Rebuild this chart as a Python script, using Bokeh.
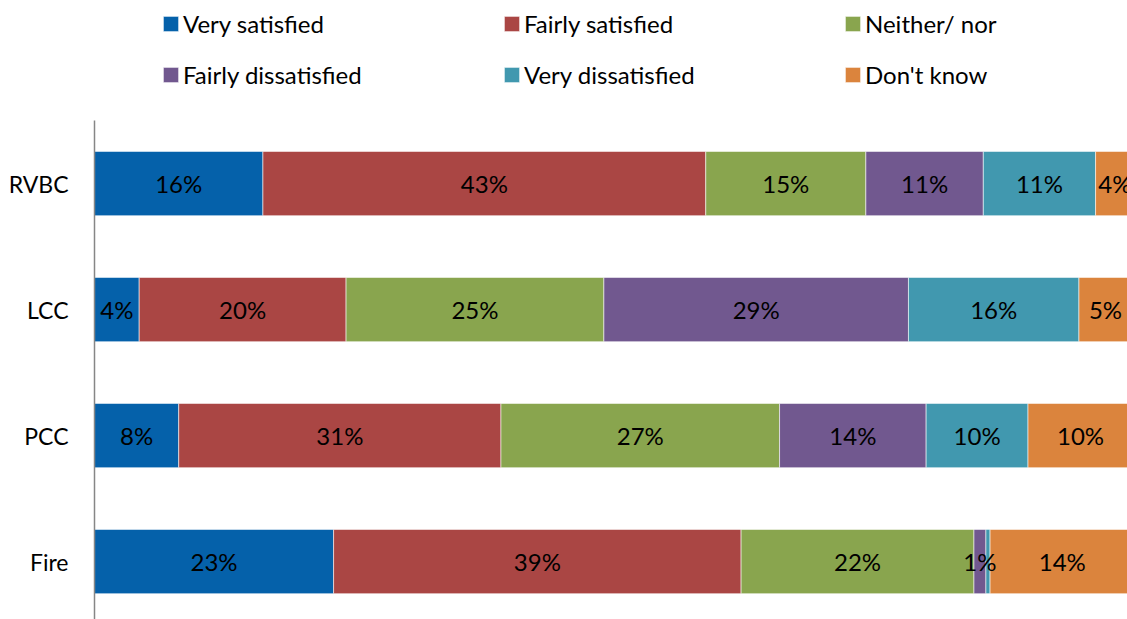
from bokeh.plotting import figure
from bokeh.models import Range1d, Legend, LegendItem, FixedTicker, ColumnDataSource
from bokeh.core.properties import value
from bokeh.embed import file_html
from bokeh.resources import INLINE

# ---- data ----
categories = ["RVBC", "LCC", "PCC", "Fire"]
series_names = ["Very satisfied", "Fairly satisfied", "Neither/ nor",
                "Fairly dissatisfied", "Very dissatisfied", "Don't know"]
very_satisfied = [16.2, 4.3, 8.1, 23.0]
fairly_satisfied = [42.6, 19.9, 31.0, 39.2]
neither_nor = [15.4, 24.8, 26.8, 22.4]
fairly_dissatisfied = [11.3, 29.3, 14.1, 1.15]
very_dissatisfied = [10.8, 16.4, 9.8, 0.4]
dont_know = [3.7, 5.1, 10.1, 13.9]
series_values = [very_satisfied, fairly_satisfied, neither_nor,
                 fairly_dissatisfied, very_dissatisfied, dont_know]
colors = ["#0561AA", "#AA4644", "#89A54E", "#71588F", "#4198AF", "#DB843D"]

FONT = "Lato"
n = len(categories)
ypos = [n - i - 0.5 for i in range(n)]

W, H = 1127, 619
FRAME_LEFT = 94
PX_PER_BAND = 126.0
y_start = 0.04
y_end = y_start + H / PX_PER_BAND   # room above the bars for the legend

p = figure(width=W, height=H, output_backend="svg", toolbar_location=None,
           x_range=Range1d(0, 99.37), y_range=Range1d(y_start, y_end),
           min_border_left=FRAME_LEFT, min_border_right=0, min_border_top=0,
           min_border_bottom=0)
p.outline_line_color = None
p.xgrid.visible = False
p.ygrid.visible = False
p.xaxis.visible = False
p.background_fill_color = "white"
p.border_fill_color = "white"

yax = p.yaxis[0]
yax.bounds = (y_start, n)
yax.ticker = FixedTicker(ticks=ypos)
yax.major_label_overrides = {y: c for y, c in zip(ypos, categories)}
yax.major_tick_in = 0
yax.major_tick_out = 0
yax.minor_tick_in = 0
yax.minor_tick_out = 0
yax.major_label_standoff = 26
yax.axis_line_color = "#868686"
yax.axis_line_width = 1.5
yax.major_label_text_font = FONT
yax.major_label_text_font_size = "23px"
yax.major_label_text_color = "#000000"

left = [0.0] * n
items = []
label_sources = []
for name, vals, col in zip(series_names, series_values, colors):
    right = [l + v for l, v in zip(left, vals)]
    src = ColumnDataSource(dict(
        y=ypos, left=left, right=right,
        xc=[(l + r) / 2 for l, r in zip(left, right)],
        lab=[f"{round(v)}%" if v >= 0.5 else "" for v in vals],
    ))
    r = p.hbar(y="y", left="left", right="right", height=0.51, source=src,
               fill_color=col, line_color="white", line_width=0.8, line_alpha=0.7)
    items.append(LegendItem(label=name, renderers=[r]))
    label_sources.append(src)
    left = right

for src in label_sources:
    p.text(x="xc", y="y", text="lab", source=src, text_align="center",
           text_baseline="middle", text_font=value(FONT), text_font_size="24px",
           text_color="#000000")

legend = Legend(items=items, orientation="horizontal", ncols=3,
                location=(67, 530), glyph_width=19, glyph_height=19,
                label_standoff=3, label_width=297, label_height=28, spacing=22,
                padding=0, margin=0, border_line_color=None,
                background_fill_alpha=0,
                label_text_font=FONT, label_text_font_size="24px",
                label_text_color="#000000")
p.add_layout(legend, "center")

open("out.html", "w").write(file_html(p, INLINE))
